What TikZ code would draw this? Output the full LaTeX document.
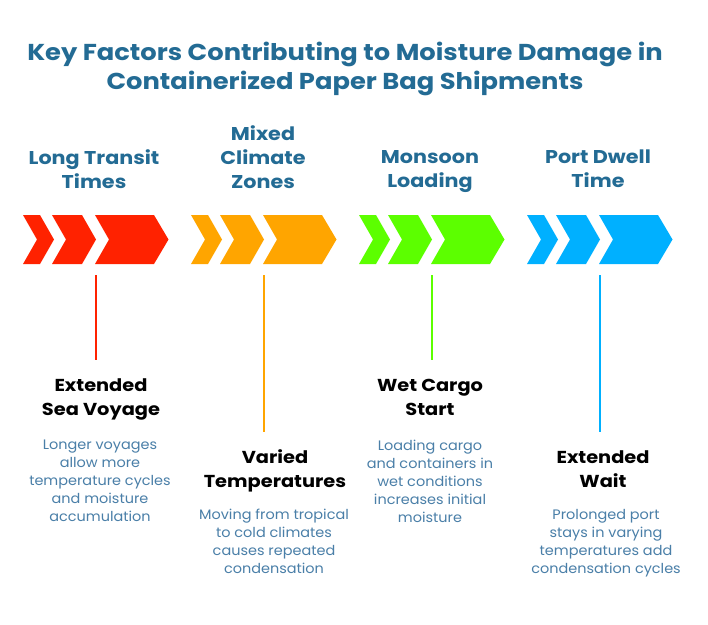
\documentclass[tikz,border=0pt]{standalone}
\usepackage{fontspec}
\setmainfont{Poppins}
\newfontfamily\widefont[FakeStretch=1.12]{Poppins}
\newfontfamily\bodyfont[FakeStretch=1.055]{Poppins}
\definecolor{titleblue}{HTML}{236B94}
\definecolor{bodyblue}{HTML}{4A7FA8}
\definecolor{cred}{HTML}{FF2200}
\definecolor{corange}{HTML}{FFA500}
\definecolor{cgreen}{HTML}{5CFF00}
\definecolor{cblue}{HTML}{00B0FF}
\tikzset{
  titletext/.style={text=titleblue,font=\widefont\fontsize{23}{29}\selectfont\bfseries,align=center,inner sep=0pt,text depth=0pt},
  headtext/.style={text=titleblue,font=\widefont\fontsize{18.5}{24}\selectfont\bfseries,align=center,inner sep=0pt,text depth=0pt},
  labeltext/.style={text=black,font=\widefont\fontsize{17.3}{24}\selectfont\bfseries,align=center,inner sep=0pt,text depth=0pt},
  bodytext/.style={text=bodyblue,font=\bodyfont\fontsize{13.7}{18}\selectfont,align=center,inner sep=0pt,text depth=0pt},
  stem/.style={line width=2pt},
}
\begin{document}
\begin{tikzpicture}[x=1pt,y=-1pt]
\useasboundingbox[fill=white] (0,0) rectangle (708,624);
\node[titletext] (title) at (345,65.5) {Key Factors Contributing to Moisture Damage in\\Containerized Paper Bag Shipments};
% chevrons
\foreach \ox/\col/\nm in {0/cred/a,168/corange/b,336/cgreen/c,504/cblue/d}{
  \begin{scope}[xshift=\ox]
    \fill[\col] (23,215) -- (40,215) -- (54,239.5) -- (40,264) -- (23,264) -- (37,239.5) -- cycle;
    \fill[\col] (52,215) -- (82,215) -- (96,239.5) -- (82,264) -- (52,264) -- (66,239.5) -- cycle;
    \fill[\col] (95,215) -- (154,215) -- (168.5,239.5) -- (154,264) -- (95,264) -- (109,239.5) -- cycle;
    \coordinate (top\nm) at (96,275);
  \end{scope}
}
\coordinate (bota) at (96,360);
\coordinate (botb) at (264,432);
\coordinate (botc) at (432,360);
\coordinate (botd) at (600,432);
\draw[stem,cred] (topa) -- (bota);
\draw[stem,corange] (topb) -- (botb);
\draw[stem,cgreen] (topc) -- (botc);
\draw[stem,cblue] (topd) -- (botd);
% headings
\node[headtext] (ha) at (94,169) {Long Transit\\Times};
\node[headtext] (hb) at (263,157) {Mixed\\Climate\\Zones};
\node[headtext] (hc) at (430,169) {Monsoon\\Loading};
\node[headtext] (hd) at (598,169) {Port Dwell\\Time};
% labels
\node[labeltext] (la) at (101,397) {Extended\\Sea Voyage};
\node[bodytext] (ba) at (100,481) {Longer voyages\\allow more\\temperature cycles\\and moisture\\accumulation};
\node[labeltext] (lb) at (275,469) {Varied\\Temperatures};
\node[bodytext] (bb) at (274,541) {Moving from tropical\\to cold climates\\causes repeated\\condensation};
\node[labeltext] (lc) at (430,397) {Wet Cargo\\Start};
\node[bodytext] (bc) at (430,481) {Loading cargo\\and containers in\\wet conditions\\increases initial\\moisture};
\node[labeltext] (ld) at (603,469) {Extended\\Wait};
\node[bodytext] (bd) at (606,541) {Prolonged port\\stays in varying\\temperatures add\\condensation cycles};
\end{tikzpicture}
\end{document}
